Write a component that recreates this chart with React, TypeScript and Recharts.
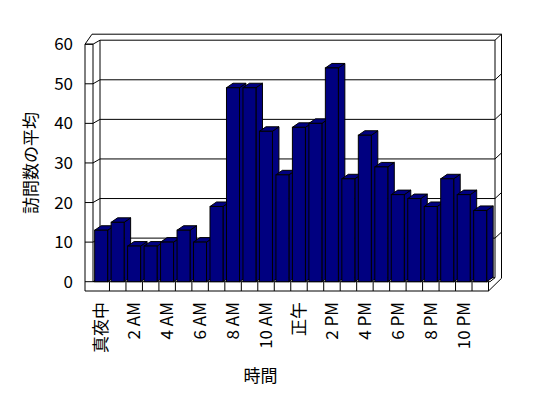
import { BarChart, Bar, XAxis, YAxis, CartesianGrid } from 'recharts';

const hours = [
  '真夜中', '1 AM', '2 AM', '3 AM', '4 AM', '5 AM', '6 AM', '7 AM', '8 AM', '9 AM', '10 AM', '11 AM',
  '正午', '1 PM', '2 PM', '3 PM', '4 PM', '5 PM', '6 PM', '7 PM', '8 PM', '9 PM', '10 PM', '11 PM',
];
const visits = [13, 15, 9, 9, 10, 13, 10, 19, 49, 49, 38, 27, 39, 40, 54, 26, 37, 29, 22, 21, 19, 26, 22, 18];
const yTicks = [0, 10, 20, 30, 40, 50, 60];

const data = hours.map((hour, i) => ({ hour, visits: visits[i] }));

const W = 548;
const H = 398;
const FONT = '"Noto Sans CJK JP", "Noto Sans", sans-serif';
// plot box (front plane)
const L = 93;
const R = 488.5;
const T = 44.2;
const B = 281.7;
const band = (R - L) / hours.length;
// depth of walls / bars
const DX = 7;
const DY = -4;
const BAR_DX = 6.5;
const BAR_DY = -4.5;
const NAVY = '#000080';

function Bar3D(props: any) {
  const { x, y, width, height } = props;
  if (height == null || height <= 0) return null;
  const x2 = x + width;
  const y2 = y + height;
  return (
    <g stroke="#000" strokeWidth={1} fill={NAVY} strokeLinejoin="miter">
      <polygon points={`${x2},${y} ${x2 + BAR_DX},${y + BAR_DY} ${x2 + BAR_DX},${y2 + BAR_DY} ${x2},${y2}`} />
      <polygon points={`${x},${y} ${x + BAR_DX},${y + BAR_DY} ${x2 + BAR_DX},${y + BAR_DY} ${x2},${y}`} />
      <rect x={x} y={y} width={width} height={height} />
    </g>
  );
}

function GridLine(p: any) {
  const { x1, x2, y1 } = p;
  const atFloor = Math.abs(y1 - B) < 1;
  const d = atFloor
    ? `M${x1},${y1} L${x1 + DX},${y1 + DY} L${x2 + DX - 0.5},${y1 + DY}`
    : `M${x1},${y1} L${x1 + DX},${y1 + DY} L${x2 + DX - 0.5},${y1 + DY} L${x2 + 13},${y1 + DY - 6}`;
  return <path key={p.key} d={d} stroke="#000" strokeWidth={1} fill="none" />;
}

function HourTick(props: any) {
  const { x, payload, index } = props;
  const bx = x + band / 2;
  return (
    <g>
      <line x1={bx} y1={B} x2={bx} y2={B + 9.3} stroke="#000" />
      {index % 2 === 0 && (
        <text
          x={x}
          y={302}
          dy="0.35em"
          textAnchor="end"
          transform={`rotate(-90, ${x}, 302)`}
          fontFamily={FONT}
          fontSize={17}
          style={{ fill: '#000' }}
        >
          {payload.value}
        </text>
      )}
    </g>
  );
}

function Walls() {
  const lines = [
    // outer silhouette
    `M85,${B + 9.3} L85,${T} L92,${T - 10} L${R + 13},${T - 10} L${R + 13},${B - 3.4} L${R},${B + 9.3} Z`,
    // left wall slab top
    `M85,${T} L${L},${T}`,
    // back wall inner edges
    `M${L + DX},${T + DY} L${L + DX},${B + DY}`,
    `M${R + DX - 0.5},${T + DY} L${R + DX - 0.5},${B + DY}`,
    // floor front edge
    `M${L},${B} L${R + 1.5},${B} L${R + DX - 0.5},${B + DY}`,
  ];
  return (
    <svg width={W} height={H} style={{ position: 'absolute', left: 0, top: 0 }}>
      <rect width={W} height={H} fill="#fff" />
      {lines.map((d, i) => (
        <path key={i} d={d} stroke="#000" strokeWidth={1} fill="none" />
      ))}
    </svg>
  );
}

export default function App() {
  return (
    <div style={{ position: 'absolute', left: 0, top: 0, width: W, height: H, background: '#fff' }}>
      <Walls />
      <div style={{ position: 'absolute', left: 0, top: 0 }}>
        <BarChart
          width={W}
          height={H}
          data={data}
          margin={{ top: T, right: W - R, bottom: 0, left: 0 }}
          barCategoryGap="10%"
        >
          <CartesianGrid vertical={false} horizontal={GridLine} />
          <XAxis
            dataKey="hour"
            interval={0}
            axisLine={false}
            tickLine={false}
            height={H - B}
            tick={HourTick}
          />
          <YAxis
            domain={[0, 60]}
            ticks={yTicks}
            interval={0}
            width={L}
            tickSize={8}
            tickMargin={12}
            axisLine={{ stroke: '#000' }}
            tickLine={{ stroke: '#000' }}
            tick={{ fill: '#000', fontSize: 17, fontFamily: FONT }}
          />
          <Bar dataKey="visits" shape={Bar3D} isAnimationActive={false} />
          <text
            x={31}
            y={163}
            transform="rotate(-90, 31, 163)"
            textAnchor="middle"
            dy="0.35em"
            fontFamily={FONT}
            fontSize={17}
            fill="#000"
          >
            訪問数の平均
          </text>
          <text x={260.5} y={376.5} dy="0.35em" textAnchor="middle" fontFamily={FONT} fontSize={17} fill="#000">
            時間
          </text>
        </BarChart>
      </div>
    </div>
  );
}
